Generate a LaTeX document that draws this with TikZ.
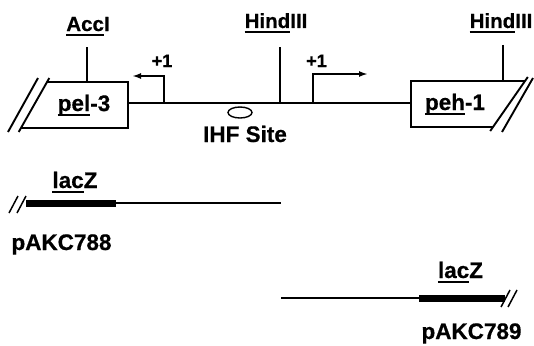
\documentclass[tikz,border=0pt]{standalone}
\usepackage{fontspec}
\setmainfont{Liberation Sans}[BoldFeatures={FakeBold=0.6}]
\usetikzlibrary{arrows.meta,shapes.geometric}
\newcommand\myul[1]{\setbox0\hbox{#1}\rlap{\rule[-4.5pt]{\wd0}{1.4pt}}\box0}
\tikzset{
  lbl/.style={font=\fontsize{22.5}{26}\selectfont\bfseries, inner sep=0pt, anchor=base},
  site lbl/.style={font=\fontsize{20.5}{24}\selectfont\bfseries, inner sep=0pt, anchor=base},
  small/.style={font=\fontsize{18}{20}\selectfont\bfseries, inner sep=0pt, anchor=base},
  box/.style={line width=1.9pt},
  dna/.style={line width=1.9pt},
  site/.style={line width=1.3pt},
  thinline/.style={line width=1.5pt},
  bar/.style={line width=7pt},
  slash/.style={line width=1.5pt},
  tss/.style={line width=1.9pt, -{Latex[length=9pt,width=6pt]}}
}
\begin{document}
\begin{tikzpicture}[x=1pt,y=-1pt]
\useasboundingbox (0,0) rectangle (534,345);

% restriction sites
\node[site lbl] (accI) at (88,31) {\myul{Acc}I};
\node[site lbl] (hindA) at (276,28) {\myul{Hind}III};
\node[site lbl] (hindB) at (501,28) {\myul{Hind}III};
\coordinate (accTop) at (87,47);  \coordinate (accBot) at (87,82);
\coordinate (hAtop) at (280,47);  \coordinate (hAbot) at (280,103);
\coordinate (hBtop) at (503,45);  \coordinate (hBbot) at (503,81);
\draw[site] (accTop) -- (accBot);
\draw[site] (hAtop) -- (hAbot);
\draw[site] (hBtop) -- (hBbot);

% pel-3 box
\draw[box] (47,82) -- (128,82) -- (128,128) -- (21,128);
\draw[box] (18.7,132) -- (49.3,78);
\draw[box] (8,132) -- (38,78);
\node[lbl] (pel) at (84,111) {\myul{pel}-3};

% peh-1 box
\draw[box] (525,81) -- (411,81) -- (411,127) -- (493,127);
\draw[box] (490.2,131) -- (527.8,77);
\draw[box] (502,132) -- (533,78);
\node[lbl] (peh) at (455,110) {\myul{peh}-1};

% main line
\coordinate (mainL) at (128,103);
\coordinate (mainR) at (411,103);
\draw[dna] (mainL) -- (mainR);

% transcription starts
\coordinate (p1) at (164,103); \coordinate (p1t) at (132,76);
\draw[tss] (p1) |- (p1t);
\node[small] (plusA) at (162,67) {+1};
\coordinate (p2) at (313,103); \coordinate (p2t) at (368,74);
\draw[tss] (p2) |- (p2t);
\node[small] (plusB) at (316.5,67) {+1};

% IHF site
\node[ellipse, draw, line width=1.4pt, minimum width=24pt, minimum height=11pt, inner sep=0pt] (ihf) at (240,112.5) {};
\node[lbl] (ihflbl) at (245,142) {IHF Site};

% pAKC788
\coordinate (a0) at (26,203); \coordinate (a1) at (116,203); \coordinate (a2) at (281,203);
\draw[bar] (a0) -- (a1);
\draw[thinline] (a1) -- (a2);
\draw[slash] (9,213) -- (18,196);
\draw[slash] (17,213) -- (26,196);
\node[lbl] (lacA) at (75,188) {\myul{lac}Z};
\node[lbl] (pA) at (61.5,250) {pAKC788};

% pAKC789
\coordinate (b0) at (281,298); \coordinate (b1) at (419,298); \coordinate (b2) at (505,298);
\draw[thinline] (b0) -- (b1);
\draw[bar] (b1) -- (b2);
\draw[slash] (501,307) -- (510,290);
\draw[slash] (508,307) -- (517,290);
\node[lbl] (lacB) at (460.5,278) {\myul{lac}Z};
\node[lbl] (pB) at (471.5,339) {pAKC789};
\end{tikzpicture}
\end{document}
